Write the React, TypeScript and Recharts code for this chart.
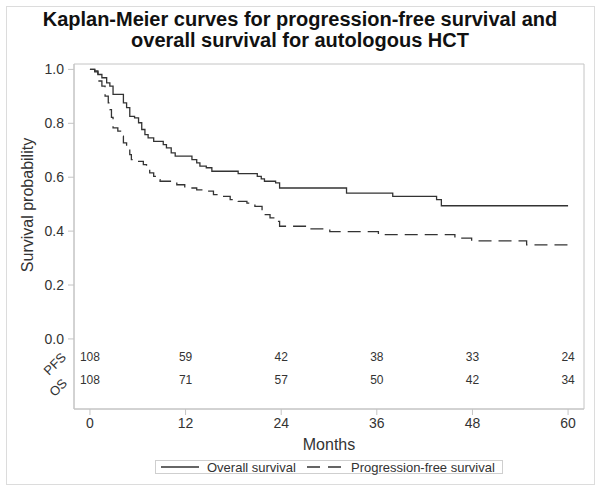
import React from "react"
import { ComposedChart, Line, Scatter, XAxis, YAxis, ReferenceArea } from "recharts"

// overall survival (solid)
const osMonths = [0, 0.6, 1.0, 1.5, 2.1, 2.5, 2.9, 4.2, 4.6, 5.0, 5.6, 6.1, 6.5, 6.9, 7.3, 8.0, 9.2, 9.6, 10.2, 10.7, 12.8, 13.4, 13.8, 14.6, 15.3, 18.6, 21.0, 21.5, 21.9, 23.3, 23.8, 32.2, 38.0, 43.5, 44.1, 60]
const osSurv = [1.0, 0.991, 0.981, 0.969, 0.95, 0.938, 0.907, 0.876, 0.858, 0.826, 0.82, 0.802, 0.777, 0.758, 0.746, 0.733, 0.721, 0.709, 0.69, 0.678, 0.665, 0.653, 0.641, 0.635, 0.622, 0.613, 0.603, 0.594, 0.585, 0.579, 0.56, 0.541, 0.529, 0.517, 0.494, 0.494]

// progression-free survival (dashed)
const pfsMonths = [0, 0.6, 1.0, 1.5, 1.9, 2.3, 2.5, 2.7, 2.9, 3.5, 4.0, 4.2, 4.6, 5.0, 5.2, 5.9, 6.7, 7.1, 7.5, 8.0, 8.4, 8.8, 10.9, 11.9, 13.4, 14.2, 15.5, 16.5, 17.6, 18.6, 19.7, 20.7, 21.6, 22.0, 22.6, 23.2, 23.8, 27.6, 30.1, 36.2, 45.8, 47.9, 54.8, 60]
const pfsSurv = [1.0, 0.994, 0.957, 0.938, 0.901, 0.876, 0.851, 0.822, 0.783, 0.771, 0.752, 0.727, 0.709, 0.684, 0.665, 0.659, 0.647, 0.635, 0.616, 0.603, 0.591, 0.585, 0.572, 0.56, 0.553, 0.548, 0.535, 0.529, 0.517, 0.51, 0.504, 0.492, 0.473, 0.461, 0.449, 0.436, 0.418, 0.408, 0.398, 0.387, 0.374, 0.364, 0.349, 0.349]

// numbers at risk
const riskMonths = [0, 12, 24, 36, 48, 60]
const pfsAtRisk = [108, 59, 42, 38, 33, 24]
const osAtRisk = [108, 71, 57, 50, 42, 34]

const xTicks = [0, 12, 24, 36, 48, 60]
const yTicks = [0, 0.2, 0.4, 0.6, 0.8, 1.0]

const FONT = "'Liberation Sans', Arial, sans-serif"
const INK = "#333"
const GRID = "#c4c4c4"

// rows of the at-risk table sit below 0 on the survival scale
const PFS_ROW = -0.067
const OS_ROW = -0.152

const osData = osMonths.map((t, i) => ({ t, p: osSurv[i] }))
const pfsData = pfsMonths.map((t, i) => ({ t, p: pfsSurv[i] }))
const pfsRiskData = riskMonths.map((t, i) => ({ t, p: PFS_ROW, n: pfsAtRisk[i] }))
const osRiskData = riskMonths.map((t, i) => ({ t, p: OS_ROW, n: osAtRisk[i] }))

const riskText = (props: any) => (
  <text x={props.cx} y={props.cy} dy={4} textAnchor="middle" fontSize={12} fontFamily={FONT} fill={INK}>
    {props.payload.n}
  </text>
)

export default function App() {
  return (
    <div style={{ position: "absolute", left: 0, top: 0, width: 601, height: 492, background: "#fff" }}>
      <ComposedChart
        width={601}
        height={492}
        margin={{ top: 64, right: 17, bottom: 53, left: 30 }}
        style={{ position: "absolute", left: 0, top: 0 }}
      >
        <ReferenceArea x1={-2} x2={62} y1={-0.26} y2={1.02} fill="none" stroke={GRID} ifOverflow="visible" />
        <XAxis
          dataKey="t"
          type="number"
          domain={[-2, 62]}
          ticks={xTicks}
          height={30}
          stroke={GRID}
          tickSize={6}
          tickMargin={3}
          tick={{ fill: INK, fontSize: 14, fontFamily: FONT }}
          allowDuplicatedCategory={false}
        />
        <YAxis
          type="number"
          domain={[-0.26, 1.02]}
          ticks={yTicks}
          width={44}
          stroke={GRID}
          tickSize={6}
          tickMargin={4}
          tickFormatter={(v: number) => v.toFixed(1)}
          tick={{ fill: INK, fontSize: 14, fontFamily: FONT }}
        />
        <Line data={osData} dataKey="p" type="stepAfter" stroke="#333" strokeWidth={1.3} dot={false} isAnimationActive={false} />
        <Line data={pfsData} dataKey="p" type="stepAfter" stroke="#333" strokeWidth={1.3} strokeDasharray="13 7" dot={false} isAnimationActive={false} />
        <Scatter data={pfsRiskData} dataKey="p" shape={riskText} isAnimationActive={false} />
        <Scatter data={osRiskData} dataKey="p" shape={riskText} isAnimationActive={false} />
      </ComposedChart>

      <svg width={601} height={492} style={{ position: "absolute", left: 0, top: 0, pointerEvents: "none" }} fontFamily={FONT}>
        <rect x={6.5} y={6.5} width={588} height={478} fill="none" stroke="#dcdcdc" />
        <text x={300} y={26} textAnchor="middle" fontSize={20} fontWeight="bold" fill="#111">
          Kaplan-Meier curves for progression-free survival and
        </text>
        <text x={300} y={47} textAnchor="middle" fontSize={20} fontWeight="bold" fill="#111">
          overall survival for autologous HCT
        </text>
        <text x={28} y={205} transform="rotate(-90 28 205)" dy={5} textAnchor="middle" fontSize={16} fill={INK}>
          Survival probability
        </text>
        <text x={329} y={450} textAnchor="middle" fontSize={16} fill={INK}>
          Months
        </text>
        <text x={67} y={358} transform="rotate(-45 67 358)" textAnchor="end" fontSize={13} fill={INK}>
          PFS
        </text>
        <text x={68} y={384} transform="rotate(-45 68 384)" textAnchor="end" fontSize={13} fill={INK}>
          OS
        </text>
        <rect x={155.5} y={460.5} width={347} height={13} fill="none" stroke="#cfcfcf" />
        <line x1={161} x2={199} y1={467} y2={467} stroke="#333" strokeWidth={1.3} />
        <text x={207} y={472} fontSize={13} fill={INK}>Overall survival</text>
        <line x1={307} x2={342} y1={467} y2={467} stroke="#333" strokeWidth={1.3} strokeDasharray="13 8" />
        <text x={351} y={472} fontSize={13} fill={INK}>Progression-free survival</text>
      </svg>
    </div>
  )
}
